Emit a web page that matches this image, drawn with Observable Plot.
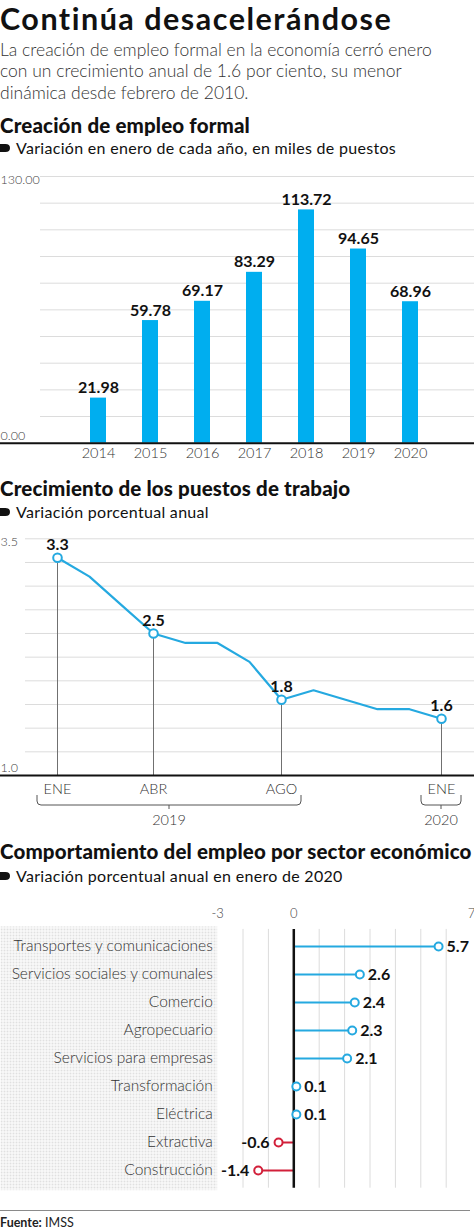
<!DOCTYPE html>
<html><head><meta charset="utf-8">
<script src="https://cdn.jsdelivr.net/npm/d3@7"></script>
<script src="https://cdn.jsdelivr.net/npm/@observablehq/plot@0.6"></script>
<style>
html,body{margin:0;padding:0;background:#fff;}
#page{position:relative;width:474px;height:1231px;overflow:hidden;font-family:Lato,sans-serif;color:#111;}
.abs{position:absolute;left:0;white-space:nowrap;margin:0;}
.h1{font-size:30.5px;font-weight:700;line-height:36.6px;letter-spacing:1.5px;}
.lead{font-size:17.5px;font-weight:300;line-height:21.3px;color:#333;}
.h2{font-size:20.5px;font-weight:900;line-height:24px;letter-spacing:0.15px;}
.sub{font-size:16px;font-weight:400;line-height:19px;padding-left:16px;letter-spacing:0.3px;}
.sub svg{position:absolute;left:0;top:6px;}
.chart{position:absolute;left:0;}
.foot{font-size:12.5px;line-height:15px;color:#222;}
</style></head>
<body>
<svg width="0" height="0" style="position:absolute"><defs>
<pattern id="dots" width="3" height="3" patternUnits="userSpaceOnUse"><rect width="2" height="2" fill="#e0e0e0"/></pattern>
</defs></svg>
<div id="page">
  <div class="abs h1" style="top:0px">Continúa desacelerándose</div>
  <div class="abs lead" style="top:39px">La creación de empleo formal en la economía cerró enero<br>con un crecimiento anual de 1.6 por ciento, su menor<br>dinámica desde febrero de 2010.</div>

  <div class="abs h2" style="top:113px">Creación de empleo formal</div>
  <div class="abs sub" style="top:138px"><svg width="10" height="8"><path d="M0 0H5.5Q10 0 10 4Q10 8 5.5 8H0Z" fill="#111"/></svg>Variación en enero de cada año, en miles de puestos</div>
  <div class="chart" id="bars" style="top:160px"></div>

  <div class="abs h2" style="top:476px">Crecimiento de los puestos de trabajo</div>
  <div class="abs sub" style="top:502px"><svg width="10" height="8"><path d="M0 0H5.5Q10 0 10 4Q10 8 5.5 8H0Z" fill="#111"/></svg>Variación porcentual anual</div>
  <div class="chart" id="line" style="top:530px"></div>

  <div class="abs h2" style="top:839px">Comportamiento del empleo por sector económico</div>
  <div class="abs sub" style="top:866px"><svg width="10" height="8"><path d="M0 0H5.5Q10 0 10 4Q10 8 5.5 8H0Z" fill="#111"/></svg>Variación porcentual anual en enero de 2020</div>
  <div class="chart" id="lolli" style="top:895px"></div>

  <div style="position:absolute;left:0;top:1210px;width:470px;height:1px;background:#8a8a8a"></div>
  <div class="abs foot" style="top:1215px"><b>Fuente:</b> IMSS</div>
</div>
<script>
// ---- Data ----
const years = ["2014","2015","2016","2017","2018","2019","2020"];
const jobs = [21.98, 59.78, 69.17, 83.29, 113.72, 94.65, 68.96];
const jobTicks = [0, 130];

const months = ["2019-01","2019-02","2019-03","2019-04","2019-05","2019-06","2019-07","2019-08","2019-09","2019-10","2019-11","2019-12","2020-01"];
const growth = [3.3, 3.1, 2.8, 2.5, 2.4, 2.4, 2.2, 1.8, 1.9, 1.8, 1.7, 1.7, 1.6];
const markedMonths = ["2019-01","2019-04","2019-08","2020-01"];
const markedNames = ["ENE","ABR","AGO","ENE"];
const growthTicks = [1.0, 3.5];
const yearLabels = ["2019","2020"];
const yearFirst = ["2019-01","2020-01"];
const yearLast = ["2019-08","2020-01"];

const sectors = ["Transportes y comunicaciones","Servicios sociales y comunales","Comercio","Agropecuario","Servicios para empresas","Transformación","Eléctrica","Extractiva","Construcción"];
const sectorChange = [5.7, 2.6, 2.4, 2.3, 2.1, 0.1, 0.1, -0.6, -1.4];
const sectorTicks = [-3, 0, 7];

const BLUE = "#00aeef", LINEBLUE = "#25a9e0", RED = "#d2203a", GRID = "#dcdcdc";
const FONT = "Lato, sans-serif";

// ---- Chart 1: bars ----
const barData = years.map((y, i) => ({year: y, value: jobs[i]}));
const bars = Plot.plot({
  width: 474, height: 310, marginTop: 16, marginBottom: 27.3, marginLeft: 0, marginRight: 0,
  style: {fontFamily: FONT, background: "transparent", overflow: "visible"},
  x: {type: "band", domain: years, range: [54, 455], padding: 0.69, axis: null},
  y: {domain: [0, 130], axis: null},
  marks: [
    Plot.ruleY(d3.range(1, 11).map(i => i * 13), {stroke: GRID, insetLeft: 40}),
    Plot.barY(barData, {x: "year", y: "value", fill: BLUE}),
    Plot.ruleY([0], {stroke: "#111", strokeWidth: 2}),
    Plot.text(barData, {x: "year", y: "value", text: d => d.value.toFixed(2), dy: -10, fontSize: 16, fontWeight: 700, fill: "#111"}),
    Plot.text(barData, {x: "year", text: "year", frameAnchor: "bottom", dy: 15, fontSize: 14.5, fontWeight: 300, fill: "#333"}),
    Plot.text(jobTicks.filter(d => d > 0), {y: d => d, text: d => d.toFixed(2), frameAnchor: "left", textAnchor: "start", dy: 3, fontSize: 12.5, fontWeight: 300, fill: "#444", letterSpacing: -0.4}),
    Plot.text(jobTicks.filter(d => d === 0), {y: d => d, text: d => d.toFixed(2), frameAnchor: "left", textAnchor: "start", dy: -7, fontSize: 12.5, fontWeight: 300, fill: "#444"})
  ]
});
document.getElementById("bars").append(bars);

// ---- Chart 2: line ----
const lineData = months.map((m, i) => ({month: m, value: growth[i]}));
const markedData = markedMonths.map((m, i) => ({month: m, name: markedNames[i], value: growth[months.indexOf(m)]}));
const line = Plot.plot({
  width: 474, height: 300, marginTop: 8.3, marginBottom: 55, marginLeft: 0, marginRight: 0,
  style: {fontFamily: FONT, background: "transparent", overflow: "visible"},
  x: {type: "point", domain: months, range: [56.7, 440.7], padding: 0, axis: null},
  y: {domain: [1, 3.5], axis: null},
  marks: [
    Plot.ruleY(d3.range(1, 11).map(i => 1 + i * 0.25), {stroke: GRID, insetLeft: 25}),
    Plot.ruleX(markedData, {x: "month", y1: 1, y2: "value", stroke: "#707070", strokeWidth: 1}),
    Plot.ruleY([1], {stroke: "#111", strokeWidth: 2}),
    Plot.line(lineData, {x: "month", y: "value", stroke: LINEBLUE, strokeWidth: 2.2}),
    Plot.dot(markedData, {x: "month", y: "value", r: 4.3, fill: "white", stroke: LINEBLUE, strokeWidth: 2}),
    Plot.text(markedData, {x: "month", y: "value", text: d => d.value.toFixed(1), dy: -13, fontSize: 16, fontWeight: 700, fill: "#111"}),
    Plot.text(markedData, {x: "month", text: "name", frameAnchor: "bottom", dy: 18.5, fontSize: 14.5, fontWeight: 300, fill: "#333"}),
    Plot.text(growthTicks.filter(d => d > 1), {y: d => d, text: d => d.toFixed(1), frameAnchor: "left", textAnchor: "start", dy: 3, fontSize: 12.5, fontWeight: 300, fill: "#444"}),
    Plot.text(growthTicks.filter(d => d === 1), {y: d => d, text: d => d.toFixed(1), frameAnchor: "left", textAnchor: "start", dy: -8, fontSize: 12.5, fontWeight: 300, fill: "#444"})
  ]
});
document.getElementById("line").append(line);
// year brackets, positioned with the chart's own x scale
{
  const sx = line.scale("x");
  const base = 245; // baseline in svg coords (height - marginBottom)
  const top = base + 20, bot = base + 30, r = 4, pad = 20;
  const g = d3.select(line).append("g").attr("fill", "none").attr("stroke", "#555").attr("stroke-width", 1);
  const tg = d3.select(line).append("g").attr("font-family", FONT).attr("font-size", 14.5).attr("font-weight", 300).attr("fill", "#333").attr("text-anchor", "middle");
  yearLabels.forEach((lab, i) => {
    const x1 = sx.apply(yearFirst[i]) - pad, x2 = sx.apply(yearLast[i]) + pad, cx = (x1 + x2) / 2;
    g.append("path").attr("d", `M${x1},${top}V${bot - r}Q${x1},${bot} ${x1 + r},${bot}H${x2 - r}Q${x2},${bot} ${x2},${bot - r}V${top}M${cx},${bot}V${bot + 4}`);
    tg.append("text").attr("x", cx).attr("y", bot + 15).attr("dy", "0.35em").text(lab);
  });
}

// ---- Chart 3: lollipops ----
const sectorData = sectors.map((s, i) => ({sector: s, value: sectorChange[i]}));
const pos = sectorData.filter(d => d.value >= 0), neg = sectorData.filter(d => d.value < 0);
const lolli = Plot.plot({
  width: 474, height: 300, marginTop: 33.9, marginBottom: 7.3, marginLeft: 0, marginRight: 0,
  style: {fontFamily: FONT, background: "transparent", overflow: "visible"},
  x: {domain: [-3, 7], range: [217.1, 471.1], axis: null},
  y: {type: "band", domain: sectors, padding: 0, axis: null},
  marks: [
    Plot.frame({fill: "url(#dots)", stroke: "none", insetRight: 257.3, insetTop: -3, insetBottom: -2}),
    Plot.ruleX([-2, -1, 1, 2, 3, 4, 5, 6], {stroke: GRID}),
    Plot.ruleY(pos, {y: "sector", x1: 0, x2: "value", stroke: LINEBLUE, strokeWidth: 2}),
    Plot.ruleY(neg, {y: "sector", x1: 0, x2: "value", stroke: RED, strokeWidth: 2}),
    Plot.ruleX([0], {stroke: "#111", strokeWidth: 2.5}),
    Plot.dot(pos, {x: "value", y: "sector", r: 4, fill: "white", stroke: LINEBLUE, strokeWidth: 2}),
    Plot.dot(neg, {x: "value", y: "sector", r: 4, fill: "white", stroke: RED, strokeWidth: 2}),
    Plot.text(pos, {x: "value", y: "sector", text: d => d.value.toFixed(1), textAnchor: "start", dx: 8, fontSize: 16, fontWeight: 700, fill: "#111"}),
    Plot.text(neg, {x: "value", y: "sector", text: d => d.value.toFixed(1), textAnchor: "end", dx: -9, fontSize: 16, fontWeight: 700, fill: "#111"}),
    Plot.text(sectorData, {y: "sector", text: "sector", frameAnchor: "left", textAnchor: "end", dx: 212.3, fontSize: 15.5, fontWeight: 300, fill: "#333", letterSpacing: 0.15}),
    Plot.text(sectorTicks, {x: d => d, text: d => String(d), frameAnchor: "top", dy: -21, fontSize: 13, fontWeight: 300, fill: "#444"})
  ]
});
document.getElementById("lolli").append(lolli);
</script>
</body></html>
